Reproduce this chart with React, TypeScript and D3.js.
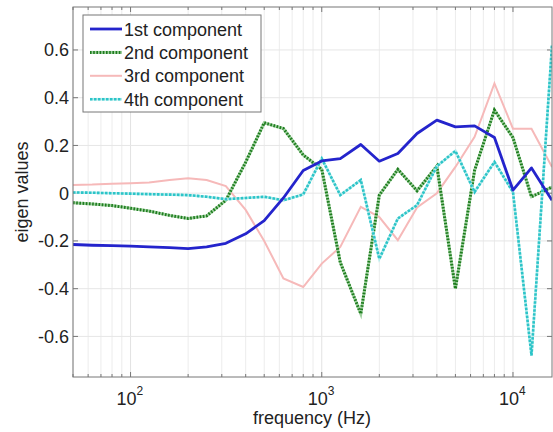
import * as d3 from "d3";
import React, { useEffect, useRef } from "react";

// 1/3-octave band centre frequencies (Hz)
const freqs = [
  50, 63, 80, 100, 125, 160, 200, 250, 315, 400, 500, 630, 800, 1000, 1250,
  1600, 2000, 2500, 3150, 4000, 5000, 6300, 8000, 10000, 12500, 16000,
];

const comp1 = [
  -0.215, -0.218, -0.22, -0.222, -0.225, -0.228, -0.232, -0.225, -0.21, -0.17,
  -0.115, -0.02, 0.095, 0.135, 0.145, 0.204, 0.134, 0.166, 0.25, 0.306, 0.278,
  0.282, 0.233, 0.013, 0.106, -0.03,
];
const comp2 = [
  -0.04, -0.045, -0.052, -0.063, -0.075, -0.093, -0.106, -0.095, -0.03, 0.13,
  0.295, 0.271, 0.16, 0.1, -0.29, -0.505, -0.008, 0.1, 0.01, 0.113, -0.4,
  0.096, 0.348, 0.233, -0.015, 0.026,
];
const comp3 = [
  0.034, 0.036, 0.04, 0.042, 0.045, 0.055, 0.063, 0.055, 0.03, -0.07, -0.2,
  -0.357, -0.393, -0.295, -0.225, -0.057, -0.1, -0.197, -0.06, 0.0, 0.11,
  0.236, 0.46, 0.27, 0.27, 0.11,
];
const comp4 = [
  0.003, 0.002, 0.0, -0.002, -0.004, -0.006, -0.008, -0.015, -0.025, -0.02,
  -0.015, -0.03, -0.005, 0.145, -0.008, 0.055, -0.275, -0.106, -0.05, 0.113,
  0.177, 0.005, 0.131, 0.005, -0.68, 0.62,
];

const seriesNames = ["1st component", "2nd component", "3rd component", "4th component"];
const yTicks = [-0.6, -0.4, -0.2, 0, 0.2, 0.4, 0.6];
const yTickLabels = ["-0.6", "-0.4", "-0.2", "0", "0.2", "0.4", "0.6"];
const xDecades = [2, 3, 4];

const font = "'Liberation Sans', Arial, sans-serif";
const fs = 18;

const App = () => {
  const svgRef = useRef(null);

  useEffect(() => {
    const svg = d3.select(svgRef.current);
    svg.selectAll("*").remove();

    const left = 73, right = 552, top = 7, bottom = 377;

    const x = d3.scaleLog().domain([50, 16000]).range([left, right]);
    const y = d3.scaleLinear().domain([-0.77, 0.78]).range([bottom, top]);

    svg.append("rect").attr("width", 553).attr("height", 432).attr("fill", "#fff");

    // grid
    const minor = [];
    for (let e = 1; e <= 4; e++) {
      for (let m = 1; m <= 9; m++) {
        const f = m * Math.pow(10, e);
        if (f >= 50 && f <= 16000) minor.push(f);
      }
    }
    const grid = svg.append("g");
    grid.selectAll(".gx")
      .data(minor)
      .enter()
      .append("line")
      .attr("x1", (d) => x(d))
      .attr("x2", (d) => x(d))
      .attr("y1", top)
      .attr("y2", bottom)
      .attr("stroke", (d) => (xDecades.includes(Math.log10(d)) ? "#e2e2e2" : "#ececec"))
      .attr("stroke-width", 1);
    grid.selectAll(".gy")
      .data(yTicks)
      .enter()
      .append("line")
      .attr("x1", left)
      .attr("x2", right)
      .attr("y1", (d) => y(d))
      .attr("y2", (d) => y(d))
      .attr("stroke", "#e6e6e6");

    // ticks
    const ticks = svg.append("g").attr("stroke", "#777").attr("stroke-width", 1);
    minor.forEach((f) => {
      const len = xDecades.includes(Math.log10(f)) ? 5 : 3;
      ticks.append("line").attr("x1", x(f)).attr("x2", x(f)).attr("y1", bottom).attr("y2", bottom - len);
      ticks.append("line").attr("x1", x(f)).attr("x2", x(f)).attr("y1", top).attr("y2", top + len);
    });
    yTicks.forEach((v) => {
      ticks.append("line").attr("x1", left).attr("x2", left + 5).attr("y1", y(v)).attr("y2", y(v));
      ticks.append("line").attr("x1", right).attr("x2", right - 5).attr("y1", y(v)).attr("y2", y(v));
    });

    // lines
    svg.append("clipPath").attr("id", "plotclip")
      .append("rect").attr("x", left).attr("y", top).attr("width", right - left).attr("height", bottom - top);

    const line = d3.line()
      .x((d) => x(d[0]))
      .y((d) => y(d[1]));

    const lines = svg.append("g").attr("clip-path", "url(#plotclip)").attr("fill", "none");
    const pts = (vals) => freqs.map((f, i) => [f, vals[i]]);

    lines.append("path").attr("d", line(pts(comp3)))
      .attr("stroke", "#f6b9b9").attr("stroke-width", 2);
    lines.append("path").attr("d", line(pts(comp2)))
      .attr("stroke", "#9fd09f").attr("stroke-width", 3);
    lines.append("path").attr("d", line(pts(comp2)))
      .attr("stroke", "#1e7d1e").attr("stroke-width", 3).attr("stroke-dasharray", "1.6,1.6");
    lines.append("path").attr("d", line(pts(comp4)))
      .attr("stroke", "#b5ecec").attr("stroke-width", 2.6);
    lines.append("path").attr("d", line(pts(comp4)))
      .attr("stroke", "#2cc4c8").attr("stroke-width", 2.6).attr("stroke-dasharray", "2.5,1.5");
    lines.append("path").attr("d", line(pts(comp1)))
      .attr("stroke", "#2424cc").attr("stroke-width", 2.8).attr("stroke-linejoin", "round");

    // frame
    svg.append("rect")
      .attr("x", left).attr("y", top).attr("width", right - left).attr("height", bottom - top)
      .attr("fill", "none").attr("stroke", "#777");

    // y tick labels
    svg.append("g").selectAll("text")
      .data(yTicks)
      .enter()
      .append("text")
      .attr("x", 69)
      .attr("y", (d) => y(d) + 6.5)
      .attr("text-anchor", "end")
      .attr("font-family", font)
      .attr("font-size", fs)
      .attr("fill", "#222")
      .text((d, i) => yTickLabels[i]);

    // x tick labels (10^n)
    const xl = svg.append("g").attr("font-family", font).attr("fill", "#222");
    xDecades.forEach((e) => {
      const cx = x(Math.pow(10, e));
      const t = xl.append("text").attr("x", cx - 14).attr("y", 405).attr("font-size", fs);
      t.append("tspan").text("10");
      t.append("tspan").attr("font-size", 12).attr("dy", -10).text(String(e));
    });

    svg.append("text")
      .attr("x", 312).attr("y", 424)
      .attr("text-anchor", "middle")
      .attr("font-family", font).attr("font-size", fs).attr("fill", "#222")
      .text("frequency (Hz)");

    svg.append("text")
      .attr("transform", `translate(28,${(top + bottom) / 2}) rotate(-90)`)
      .attr("text-anchor", "middle")
      .attr("font-family", font).attr("font-size", fs).attr("fill", "#222")
      .text("eigen values");

    // legend
    const lg = svg.append("g");
    lg.append("rect").attr("x", 83).attr("y", 15).attr("width", 178).attr("height", 97)
      .attr("fill", "#fff").attr("stroke", "#777");
    const styles = [
      [{ stroke: "#2424cc", w: 2.8, dash: null }],
      [{ stroke: "#9fd09f", w: 3, dash: null }, { stroke: "#1e7d1e", w: 3, dash: "1.6,1.6" }],
      [{ stroke: "#f6b9b9", w: 2, dash: null }],
      [{ stroke: "#b5ecec", w: 2.6, dash: null }, { stroke: "#2cc4c8", w: 2.6, dash: "2.5,1.5" }],
    ];
    seriesNames.forEach((name, i) => {
      const cy = 29 + i * 23.4;
      styles[i].forEach((s) => {
        const l = lg.append("line").attr("x1", 90).attr("x2", 122).attr("y1", cy).attr("y2", cy)
          .attr("stroke", s.stroke).attr("stroke-width", s.w);
        if (s.dash) l.attr("stroke-dasharray", s.dash);
      });
      lg.append("text").attr("x", 124).attr("y", cy + 6.5)
        .attr("font-family", font).attr("font-size", fs).attr("fill", "#222")
        .text(name);
    });
  }, []);

  return (
    <svg
      ref={svgRef}
      width="553"
      height="432"
      style={{ position: "absolute", left: 0, top: 0 }}
    ></svg>
  );
};

export default App;
